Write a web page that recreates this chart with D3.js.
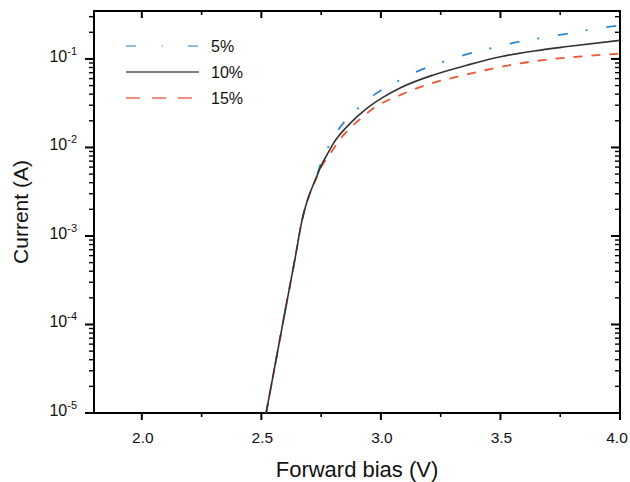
<!DOCTYPE html>
<html>
<head>
<meta charset="utf-8">
<script src="https://cdn.jsdelivr.net/npm/d3@7/dist/d3.min.js"></script>
<style>
  html, body { margin: 0; padding: 0; background: #fff; }
  svg { display: block; font-family: "Liberation Sans", Arial, sans-serif; }
</style>
</head>
<body>
<svg id="chart" width="630" height="482"></svg>
<script>
// ---- data ----
const seriesNames = ["5%", "10%", "15%"];

const voltage5 = [2.520, 2.560, 2.600, 2.640, 2.670, 2.690, 2.710, 2.730, 2.750, 2.787, 2.830, 2.900, 2.970, 3.060, 3.150, 3.250, 3.350, 3.450, 3.550, 3.660, 3.770, 3.870, 4.000];
const current5 = [1.0e-5, 3.8e-5, 1.45e-4, 5.4e-4, 1.5e-3, 2.4e-3, 3.4e-3, 4.6e-3, 6.8e-3, 1.1e-2, 1.7e-2, 2.7e-2, 3.9e-2, 5.4e-2, 7.2e-2, 9.1e-2, 0.111, 0.130, 0.151, 0.171, 0.191, 0.213, 0.240];

const voltage10 = [2.520, 2.560, 2.600, 2.640, 2.670, 2.690, 2.710, 2.730, 2.750, 2.775, 2.800, 2.870, 2.940, 3.010, 3.080, 3.220, 3.360, 3.500, 3.640, 3.780, 4.000];
const current10 = [1.0e-5, 3.8e-5, 1.45e-4, 5.4e-4, 1.5e-3, 2.4e-3, 3.4e-3, 4.6e-3, 6.2e-3, 8.3e-3, 1.1e-2, 1.86e-2, 2.75e-2, 3.7e-2, 4.7e-2, 6.6e-2, 8.5e-2, 0.106, 0.123, 0.138, 0.162];

const voltage15 = [2.520, 2.560, 2.600, 2.640, 2.670, 2.690, 2.710, 2.730, 2.750, 2.780, 2.840, 2.900, 2.980, 3.080, 3.190, 3.320, 3.440, 3.580, 3.720, 3.860, 4.000];
const current15 = [1.0e-5, 3.8e-5, 1.45e-4, 5.4e-4, 1.5e-3, 2.4e-3, 3.4e-3, 4.5e-3, 6.0e-3, 7.9e-3, 1.35e-2, 1.95e-2, 2.9e-2, 3.9e-2, 5.1e-2, 6.3e-2, 7.5e-2, 8.9e-2, 0.100, 0.108, 0.115];

const xTicks = [2.0, 2.5, 3.0, 3.5, 4.0];
const xTickLabels = ["2.0", "2.5", "3.0", "3.5", "4.0"];
const xMinorTicks = [2.25, 2.75, 3.25, 3.75];
const yTicks = [1e-5, 1e-4, 1e-3, 1e-2, 1e-1];
const yTickExponents = ["-5", "-4", "-3", "-2", "-1"];
const xTitle = "Forward bias (V)";
const yTitle = "Current (A)";

// ---- layout ----
const svg = d3.select("#chart");
const L = 94, R = 620, T = 11, B = 413;
const x = d3.scaleLinear().domain([1.8, 4.0]).range([L, R]);
const y = d3.scaleLog().domain([1e-5, 0.348]).range([B, T]);

// minor y ticks
const yMinor = [];
for (let e = -5; e <= -1; e++) {
  for (let m = 2; m <= 9; m++) {
    const v = m * Math.pow(10, e);
    if (v <= y.domain()[1]) yMinor.push(v);
  }
}

// ---- tick marks drawn via scales ----
const ticksG = svg.append("g").attr("stroke", "#000").attr("fill", "none");
function xTickMarks(values, y0, len, w) {
  ticksG.selectAll(null).data(values).join("line")
    .attr("x1", d => x(d)).attr("x2", d => x(d))
    .attr("y1", y0).attr("y2", y0 + len)
    .attr("stroke-width", w);
}
function yTickMarks(values, x0, len, w) {
  ticksG.selectAll(null).data(values).join("line")
    .attr("y1", d => y(d)).attr("y2", d => y(d))
    .attr("x1", x0).attr("x2", x0 + len)
    .attr("stroke-width", w);
}
xTickMarks(xTicks, B, 7, 2);        // bottom, outward
xTickMarks(xMinorTicks, B, 4, 1.6);
xTickMarks(xTicks, T, 7, 2);        // top, inward
xTickMarks(xMinorTicks, T, 4, 1.6);
yTickMarks(yTicks, L, -9, 2);       // left, outward
yTickMarks(yMinor, L, -5, 1.4);
yTickMarks(yTicks, R, -9, 2);       // right, inward
yTickMarks(yMinor, R, -5, 1.4);

// x tick labels
svg.append("g").selectAll("text").data(xTicks).join("text")
  .attr("x", (d, i) => x(d) + (i === xTicks.length - 1 ? -3 : 1))
  .attr("y", 443)
  .attr("text-anchor", "middle")
  .attr("font-size", 15.5).attr("fill", "#111")
  .text((d, i) => xTickLabels[i]);

// y tick labels with superscripts
const yl = svg.append("g");
yTicks.forEach((v, i) => {
  const t = yl.append("text")
    .attr("x", 77).attr("y", y(v) + 3)
    .attr("text-anchor", "end")
    .attr("font-size", 16).attr("fill", "#111");
  t.append("tspan").text("10");
  t.append("tspan").attr("dy", -7).attr("font-size", 11).text(yTickExponents[i]);
});

// frame
svg.append("rect").attr("x", L).attr("y", T).attr("width", R - L).attr("height", B - T)
  .attr("fill", "none").attr("stroke", "#000").attr("stroke-width", 2);

// clip
svg.append("clipPath").attr("id", "clip").append("rect")
  .attr("x", L).attr("y", T).attr("width", R - L).attr("height", B - T);

const line = d3.line().x(d => x(d[0])).y(d => y(d[1])).curve(d3.curveMonotoneX);

const series = [
  { v: voltage15, c: current15, color: "#ee5535", dash: "9,9", w: 1.8 },
  { v: voltage5, c: current5, color: "#2f86d0", dash: "10,18,2,19", w: 1.8 },
  { v: voltage10, c: current10, color: "#333333", dash: null, w: 1.6 }
];
const plot = svg.append("g").attr("clip-path", "url(#clip)");
series.forEach(s => {
  plot.append("path")
    .datum(s.v.map((vv, i) => [vv, s.c[i]]))
    .attr("d", line)
    .attr("fill", "none")
    .attr("stroke", s.color)
    .attr("stroke-width", s.w)
    .attr("stroke-dasharray", s.dash);
});

// legend
const legendItems = [
  { name: seriesNames[0], color: "#6aa8dc", dash: "10,26,1,25" },
  { name: seriesNames[1], color: "#555555", dash: null },
  { name: seriesNames[2], color: "#ee6a4f", dash: "14,12" }
];
legendItems.forEach((d, i) => {
  const ly = 46 + i * 26;
  svg.append("line").attr("x1", 126).attr("x2", 199).attr("y1", ly).attr("y2", ly)
    .attr("stroke", d.color).attr("stroke-width", 1.5).attr("stroke-dasharray", d.dash);
  svg.append("text").attr("x", 211).attr("y", ly + 5.5).attr("font-size", 16).attr("fill", "#111").text(d.name);
});

// axis titles
svg.append("text").attr("x", (L + R) / 2).attr("y", 477).attr("text-anchor", "middle")
  .attr("font-size", 22).attr("fill", "#111").text(xTitle);
svg.append("text").attr("transform", `translate(28,${(T + B) / 2}) rotate(-90)`)
  .attr("text-anchor", "middle").attr("font-size", 21).attr("fill", "#111").text(yTitle);
</script>
</body>
</html>
